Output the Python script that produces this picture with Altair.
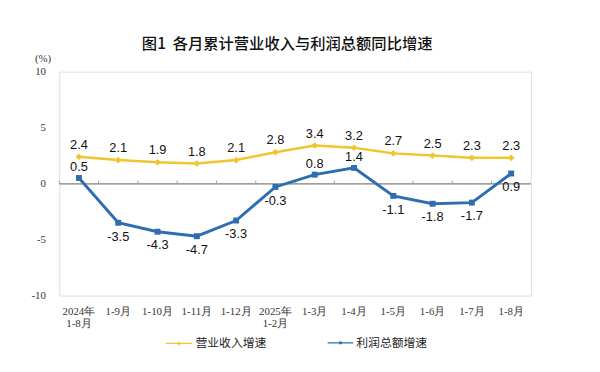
import altair as alt
import pandas as pd

months = ["2024年 1-8月", "1-9月", "1-10月", "1-11月", "1-12月", "2025年 1-2月",
          "1-3月", "1-4月", "1-5月", "1-6月", "1-7月", "1-8月"]
revenue = [2.4, 2.1, 1.9, 1.8, 2.1, 2.8, 3.4, 3.2, 2.7, 2.5, 2.3, 2.3]
profit = [0.5, -3.5, -4.3, -4.7, -3.3, -0.3, 0.8, 1.4, -1.1, -1.8, -1.7, 0.9]
profit_label_above = ["2024年 1-8月", "1-3月", "1-4月"]
y_ticks = [-10, -5, 0, 5, 10]
series_names = ["营业收入增速", "利润总额增速"]

df = pd.DataFrame({"month": months, "revenue": revenue, "profit": profit})
df["above"] = df["month"].isin(profit_label_above)

YEL = "#F0C52E"
BLU = "#2F6DB2"
GRAY = "#A0A0A0"
SERIF = "Liberation Serif"

LEG_YEL = "M-1,-0.05H1V0.05H-1Z M0,-0.15L0.15,0L0,0.15L-0.15,0Z"
LEG_BLU = "M-1,-0.055H1V0.055H-1Z M-0.11,-0.11H0.11V0.11H-0.11Z"

x_scale = alt.Scale(type="band", paddingInner=0, paddingOuter=0)
x_axis = alt.Axis(title=None, labelAngle=0, labelExpr="split(datum.label, ' ')",
                  labelFont=SERIF, labelFontSize=11, labelFontWeight="normal",
                  labelColor="#333", labelPadding=10, labelLineHeight=12,
                  ticks=False, domain=False)
x_mid = alt.X("month:N", sort=None, bandPosition=0.5, scale=x_scale, axis=x_axis)
x_edge = alt.X("month:N", sort=None, bandPosition=0, scale=x_scale, axis=x_axis)

def y_enc(field):
    return alt.Y(
        f"{field}:Q",
        scale=alt.Scale(domain=[-10, 10], nice=False, zero=False),
        axis=alt.Axis(values=y_ticks, grid=False, ticks=False, domain=False,
                      labelFont=SERIF, labelFontSize=11, labelColor="#333",
                      labelFontWeight="normal",
                      labelPadding=14, labelExpr="'' + datum.value",
                      title="(%)", titleAngle=0, titleX=-17, titleY=-13,
                      titleFont=SERIF, titleFontSize=11, titleFontWeight="normal",
                      titleColor="#333", titleAlign="center", titleBaseline="middle"),
    )

base = alt.Chart(df)

zero_line = base.mark_rule(color=GRAY, strokeWidth=1).encode(y=alt.datum(0, type="quantitative"))
zero_ticks = base.mark_rule(color=GRAY, strokeWidth=1).encode(
    x=x_edge, y=alt.datum(0, type="quantitative"), y2=alt.datum(0.27)
)

rev_line = base.mark_line(color=YEL, strokeWidth=2.5).encode(x=x_mid, y=y_enc("revenue"))
rev_pts = base.mark_point(filled=True, shape="diamond", size=45, opacity=1).transform_calculate(
    s=f"'{series_names[0]}'"
).encode(
    x=x_mid, y=y_enc("revenue"),
    color=alt.Color("s:N", scale=alt.Scale(domain=[series_names[0]], range=[YEL]),
                    legend=alt.Legend(title=None, orient="none", legendX=108, legendY=262,
                                      symbolType=LEG_YEL, symbolSize=729, symbolStrokeWidth=0,
                                      labelFont="Noto Sans CJK SC", labelFontSize=12,
                                      labelColor="#222", padding=0, labelOffset=3)),
)
rev_text = base.mark_text(font="Liberation Sans", fontSize=13, color="#111", dy=-12).transform_calculate(
    lab="'' + datum.revenue"
).encode(x=x_mid, y=y_enc("revenue"), text="lab:N")

prof_line = base.mark_line(color=BLU, strokeWidth=3).encode(x=x_mid, y=y_enc("profit"))
prof_pts = base.mark_point(filled=True, shape="square", size=36, opacity=1).transform_calculate(
    s=f"'{series_names[1]}'"
).encode(
    x=x_mid, y=y_enc("profit"),
    color=alt.Color("s:N", scale=alt.Scale(domain=[series_names[1]], range=[BLU]),
                    legend=alt.Legend(title=None, orient="none", legendX=272, legendY=262,
                                      symbolType=LEG_BLU, symbolSize=676, symbolStrokeWidth=0,
                                      labelFont="Noto Sans CJK SC", labelFontSize=12,
                                      labelColor="#222", padding=0, labelOffset=3)),
)
prof_text_up = base.mark_text(font="Liberation Sans", fontSize=13, color="#111", dy=-11).transform_filter(
    "datum.above"
).transform_calculate(lab="'' + datum.profit").encode(x=x_mid, y=y_enc("profit"), text="lab:N")
prof_text_down = base.mark_text(font="Liberation Sans", fontSize=13, color="#111", dy=14).transform_filter(
    "!datum.above"
).transform_calculate(lab="'' + datum.profit").encode(x=x_mid, y=y_enc("profit"), text="lab:N")

chart = alt.layer(
    zero_line, zero_ticks, prof_line, rev_line, rev_pts, prof_pts,
    rev_text, prof_text_up, prof_text_down
).resolve_scale(color="independent").resolve_legend(color="independent").properties(
    width=478, height=227,
    padding={"left": 52, "top": 62, "right": 62, "bottom": 75},
    autosize=alt.AutoSizeParams(type="none"),
    title=alt.Title("图1\u00a0\u00a0各月累计营业收入与利润总额同比增速", font="Noto Sans CJK SC",
                    fontSize=15.5, fontWeight=500, color="#111", offset=0, dx=-8,
                    anchor="middle"),
).configure_view(stroke=GRAY, strokeWidth=1).configure(background="white")

chart.save("out.html", embed_options={"renderer": "svg", "actions": False})
